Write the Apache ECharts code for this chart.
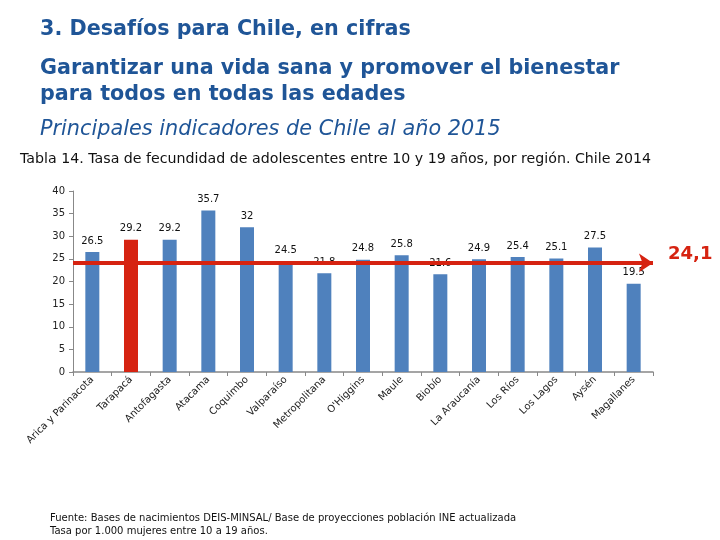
<!DOCTYPE html>
<html><head><meta charset="utf-8">
<script src="https://cdn.jsdelivr.net/npm/echarts@6/dist/echarts.min.js"></script>
<style>html,body{margin:0;padding:0;background:#fff}#c{width:720px;height:540px}</style>
</head><body><div id="c"></div>
<script>
const categories = ['Arica y Parinacota','Tarapacá','Antofagasta','Atacama','Coquimbo','Valparaíso','Metropolitana',"O'Higgins",'Maule','Biobío','La Araucanía','Los Ríos','Los Lagos','Aysén','Magallanes'];
const values = [26.5, 29.2, 29.2, 35.7, 32, 24.5, 21.8, 24.8, 25.8, 21.6, 24.9, 25.4, 25.1, 27.5, 19.5];
const highlightIndex = 1;
const nationalRate = 24.1;
const nationalLabel = '24,1';
const yTicks = [0, 5, 10, 15, 20, 25, 30, 35, 40];

const blue = '#4F81BD', red = '#D62311', titleBlue = '#1F5597';
const font = 'DejaVu Sans';
const chart = echarts.init(document.getElementById('c'));
chart.setOption({
  animation: false,
  textStyle: { fontFamily: font },
  title: [
    { text: '3. Desafíos para Chile, en cifras', left: 35, top: 14,
      textStyle: { fontFamily: font, fontSize: 20.7, fontWeight: 'bold', color: titleBlue } },
    { text: 'Garantizar una vida sana y promover el bienestar\npara todos en todas las edades', left: 35, top: 51,
      textStyle: { fontFamily: font, fontSize: 20.7, fontWeight: 'bold', color: titleBlue, lineHeight: 26 } },
    { text: 'Principales indicadores de Chile al año 2015', left: 35, top: 114,
      textStyle: { fontFamily: font, fontSize: 20.8, fontStyle: 'italic', fontWeight: 'normal', color: titleBlue } },
    { text: 'Tabla 14. Tasa de fecundidad de adolescentes entre 10 y 19 años, por región. Chile 2014', left: 15, top: 147,
      textStyle: { fontFamily: font, fontSize: 14.2, fontWeight: 'normal', color: '#111' } },
    { text: 'Fuente: Bases de nacimientos DEIS-MINSAL/ Base de proyecciones población INE actualizada\nTasa por 1.000 mujeres entre 10 a 19 años.', left: 45, top: 507,
      textStyle: { fontFamily: font, fontSize: 10, fontWeight: 'normal', color: '#111', lineHeight: 13 } }
  ],
  grid: { left: 73, right: 67, top: 191, bottom: 168 },
  xAxis: {
    type: 'category', data: categories,
    axisLine: { lineStyle: { color: '#888', width: 1.5 } },
    axisTick: { show: true, alignWithLabel: false, length: 4, lineStyle: { color: '#888' } },
    axisLabel: { rotate: 45, interval: 0, fontSize: 10, color: '#222', margin: 6, fontFamily: font }
  },
  yAxis: {
    type: 'value', min: 0, max: 40, interval: 5,
    splitLine: { show: false },
    axisLine: { show: true, lineStyle: { color: '#888', width: 1 } },
    axisTick: { show: true, length: 4, lineStyle: { color: '#888' } },
    axisLabel: { fontSize: 10, color: '#222', margin: 8, fontFamily: font,
      formatter: v => yTicks.includes(v) ? String(v) : '' }
  },
  series: [{
    type: 'bar', barWidth: 14,
    data: values.map((v, i) => ({ value: v, itemStyle: { color: i === highlightIndex ? red : blue } })),
    label: { show: true, position: 'top', distance: 6, fontSize: 10, color: '#111', fontFamily: font },
    markLine: {
      silent: true, symbol: ['none', 'arrow'], symbolSize: [14, 14],
      lineStyle: { color: red, width: 4, type: 'solid' },
      label: { show: true, position: 'end', formatter: nationalLabel, color: red,
        fontSize: 18, fontWeight: 'bold', fontFamily: font, distance: 4,
        verticalAlign: 'bottom', padding: [0, 0, 0, 11] },
      data: [{ yAxis: nationalRate }],
      z: 10
    }
  }]
});
</script></body></html>
